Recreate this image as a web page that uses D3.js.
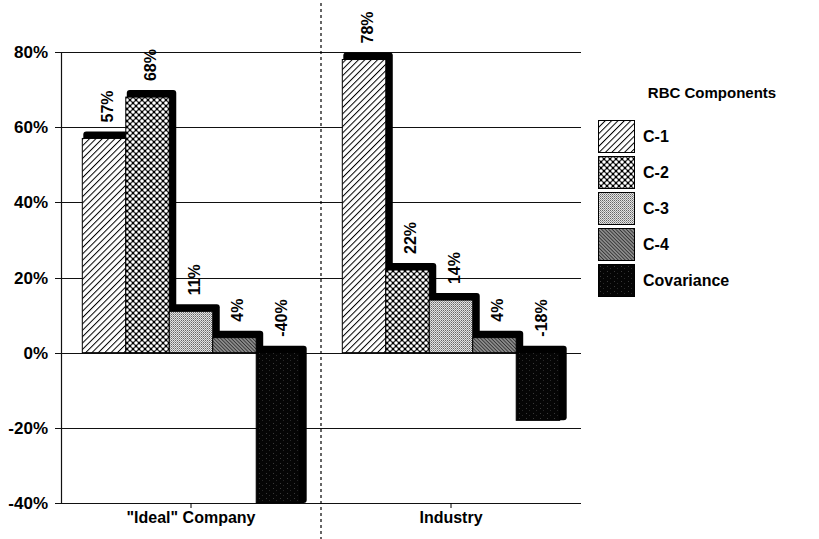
<!DOCTYPE html>
<html>
<head>
<meta charset="utf-8">
<script src="https://cdn.jsdelivr.net/npm/d3@7"></script>
<style>
  body { margin: 0; background: #fff; }
  text { font-family: "Liberation Sans", Arial, sans-serif; font-weight: bold; fill: #000; }
</style>
</head>
<body>
<svg id="chart" width="819" height="539"></svg>
<script>
// chart values
var groups = ['"Ideal" Company', 'Industry'];
var components = ['C-1', 'C-2', 'C-3', 'C-4', 'Covariance'];
var idealValues = [57, 68, 11, 4, -40];
var industryValues = [78, 22, 14, 4, -18];
var yTicks = [-40, -20, 0, 20, 40, 60, 80];
var legendTitle = 'RBC Components';

var seriesByGroup = [idealValues, industryValues];
var patternIds = ['pC1', 'pC2', 'pC3', 'pC4', 'pCov'];

var margin = { top: 52, right: 238, bottom: 36, left: 61 },
  width = 819 - margin.left - margin.right,
  height = 539 - margin.top - margin.bottom;

var root = d3.select("#chart");
var defs = root.append("defs");

// C-1: forward hatch
var p1 = defs.append("pattern").attr("id", "pC1").attr("patternUnits", "userSpaceOnUse")
  .attr("width", 4.5).attr("height", 4.5).attr("patternTransform", "rotate(45)");
p1.append("rect").attr("width", 4.5).attr("height", 4.5).attr("fill", "#fff");
p1.append("line").attr("x1", 0).attr("y1", 0).attr("x2", 0).attr("y2", 4.5)
  .attr("stroke", "#000").attr("stroke-width", 2);

// C-2: black with white dots (diamond grid)
var p2 = defs.append("pattern").attr("id", "pC2").attr("patternUnits", "userSpaceOnUse")
  .attr("width", 6).attr("height", 6);
p2.append("rect").attr("width", 6).attr("height", 6).attr("fill", "#000");
[[0, 0], [6, 0], [0, 6], [6, 6], [3, 3]].forEach(function (c) {
  p2.append("circle").attr("cx", c[0]).attr("cy", c[1]).attr("r", 1.8).attr("fill", "#fff");
});

// C-3: light stipple
var p3 = defs.append("pattern").attr("id", "pC3").attr("patternUnits", "userSpaceOnUse")
  .attr("width", 2).attr("height", 2);
p3.append("rect").attr("width", 2).attr("height", 2).attr("fill", "#e4e4e4");
p3.append("rect").attr("width", 1).attr("height", 1).attr("fill", "#666");
p3.append("rect").attr("x", 1).attr("y", 1).attr("width", 1).attr("height", 1).attr("fill", "#999");

// C-4: dark fine back hatch
var p4 = defs.append("pattern").attr("id", "pC4").attr("patternUnits", "userSpaceOnUse")
  .attr("width", 2.5).attr("height", 2.5).attr("patternTransform", "rotate(-45)");
p4.append("rect").attr("width", 2.5).attr("height", 2.5).attr("fill", "#8a8a8a");
p4.append("line").attr("x1", 0).attr("y1", 0).attr("x2", 0).attr("y2", 2.5)
  .attr("stroke", "#1a1a1a").attr("stroke-width", 1.3);

// Covariance: black with faint specks
var p5 = defs.append("pattern").attr("id", "pCov").attr("patternUnits", "userSpaceOnUse")
  .attr("width", 7).attr("height", 5);
p5.append("rect").attr("width", 7).attr("height", 5).attr("fill", "#050505");
p5.append("rect").attr("x", 2).attr("y", 1).attr("width", 1).attr("height", 1).attr("fill", "#3a3a3a");
p5.append("rect").attr("x", 5).attr("y", 3).attr("width", 1).attr("height", 1).attr("fill", "#2a2a2a");

var svg = root.append("g")
  .attr("transform", "translate(" + margin.left + "," + margin.top + ")");

var x0 = d3.scaleBand().domain(groups).range([0, width]).paddingInner(0).paddingOuter(0);
var x1 = d3.scaleBand().domain(components).range([0, x0.bandwidth()]).paddingInner(0).paddingOuter(0.49);
var y = d3.scaleLinear().domain([-40, 80]).range([height, 0]);

// gridlines
svg.append("g")
  .selectAll("line")
  .data(yTicks)
  .enter()
  .append("line")
  .attr("x1", -6)
  .attr("x2", width)
  .attr("y1", function (d) { return Math.round(y(d)) + 0.5; })
  .attr("y2", function (d) { return Math.round(y(d)) + 0.5; })
  .attr("stroke", "#111")
  .attr("stroke-width", 1.2);

// y tick labels
svg.append("g")
  .selectAll("text")
  .data(yTicks)
  .enter()
  .append("text")
  .attr("x", -13)
  .attr("y", function (d) { return y(d); })
  .attr("dy", "0.36em")
  .attr("text-anchor", "end")
  .style("font-size", "17px")
  .text(function (d) { return d + "%"; });

// left axis line
svg.append("line")
  .attr("x1", 0.5).attr("x2", 0.5)
  .attr("y1", 0).attr("y2", height)
  .attr("stroke", "#111").attr("stroke-width", 1.2);

// dashed divider between groups
svg.append("line")
  .attr("x1", x0(groups[1])).attr("x2", x0(groups[1]))
  .attr("y1", -margin.top + 3).attr("y2", height + margin.bottom)
  .attr("stroke", "#000").attr("stroke-width", 1.2)
  .attr("stroke-dasharray", "3,3");

// category ticks and labels
groups.forEach(function (g) {
  var cx = x0(g) + x0.bandwidth() / 2;
  svg.append("line")
    .attr("x1", cx).attr("x2", cx)
    .attr("y1", height).attr("y2", height + 5)
    .attr("stroke", "#000");
  svg.append("text")
    .attr("x", cx)
    .attr("y", height + 20)
    .attr("text-anchor", "middle")
    .style("font-size", "16px")
    .text(g);
});

// bars with raised black shadow
var sh = 7;
groups.forEach(function (g, gi) {
  var vals = seriesByGroup[gi];
  var gEl = svg.append("g").attr("transform", "translate(" + x0(g) + ",0)");
  components.forEach(function (c, ci) {
    var v = vals[ci];
    var bx = x1(c), bw = x1.bandwidth();
    var top = y(Math.max(0, v)), bot = y(Math.min(0, v));
    gEl.append("rect")
      .attr("x", bx + 1)
      .attr("y", top - sh)
      .attr("width", bw + sh - 1)
      .attr("height", bot - top + sh)
      .attr("rx", 3)
      .attr("fill", "#000");
    gEl.append("rect")
      .attr("x", bx)
      .attr("y", top)
      .attr("width", bw)
      .attr("height", bot - top)
      .attr("fill", "url(#" + patternIds[ci] + ")")
      .attr("stroke", "#000")
      .attr("stroke-width", 1);
    var labelY = (v >= 0 ? y(v) : y(0)) - sh - 9;
    gEl.append("text")
      .attr("transform", "translate(" + (bx + bw / 2 + 3) + "," + labelY + ") rotate(-90)")
      .attr("dy", "0.36em")
      .attr("text-anchor", "start")
      .style("font-size", "16px")
      .text(v + "%");
  });
});

// legend
var legend = root.append("g").attr("transform", "translate(598,0)");
legend.append("text")
  .attr("x", 114)
  .attr("y", 98)
  .attr("text-anchor", "middle")
  .style("font-size", "15px")
  .text(legendTitle);
components.forEach(function (c, i) {
  var ly = 120 + i * 36;
  legend.append("rect")
    .attr("x", 0.5).attr("y", ly + 0.5)
    .attr("width", 36).attr("height", 32)
    .attr("fill", "url(#" + patternIds[i] + ")")
    .attr("stroke", "#000");
  legend.append("text")
    .attr("x", 45)
    .attr("y", ly + 16)
    .attr("dy", "0.36em")
    .style("font-size", "16px")
    .text(c);
});
</script>
</body>
</html>
